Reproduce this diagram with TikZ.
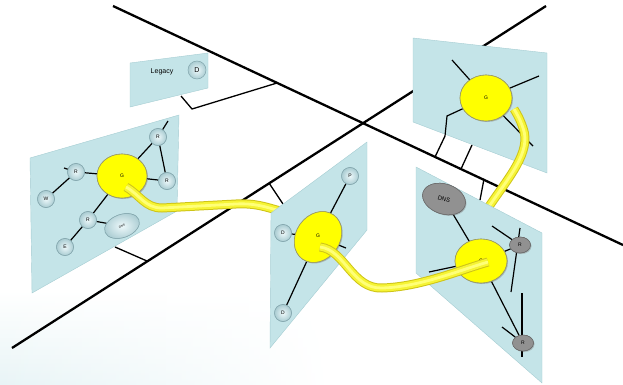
\documentclass[tikz,border=0pt]{standalone}
\usepackage{fontspec}
\setmainfont{Liberation Sans}
\usetikzlibrary{shapes.geometric,fadings,shadows}
\definecolor{panelc}{RGB}{196,228,232}
\definecolor{paneld}{RGB}{165,205,210}
\definecolor{btnin}{RGB}{238,249,251}
\definecolor{btnout}{RGB}{170,204,210}
\definecolor{btnd}{RGB}{130,165,172}
\definecolor{gyel}{RGB}{255,255,0}
\definecolor{gedge}{RGB}{150,150,110}
\definecolor{tubed}{RGB}{206,196,24}
\definecolor{tubem}{RGB}{246,244,52}
\definecolor{tubel}{RGB}{255,255,120}
\definecolor{grayn}{RGB}{145,145,145}
\definecolor{graynd}{RGB}{105,105,105}
\definecolor{bgc}{RGB}{232,244,246}
\begin{document}
\begin{tikzpicture}[x=1pt,y=-1pt,
  panel/.style={fill=panelc, draw=paneld, line width=0.4pt},
  btn/.style={circle, minimum size=17pt, inner sep=0pt, inner color=btnin, outer color=btnout, draw=btnd, line width=0.5pt, font=\fontsize{5}{5}\selectfont},
  gnode/.style={ellipse, inner sep=0pt, fill=gyel, draw=gedge, line width=0.6pt, font=\fontsize{5}{5}\selectfont, drop shadow={opacity=0.25, shadow xshift=1pt, shadow yshift=-1pt}},
  grnode/.style={ellipse, inner sep=0pt, fill=grayn, draw=graynd, line width=0.5pt, font=\fontsize{5}{5}\selectfont, drop shadow={opacity=0.25, shadow xshift=1pt, shadow yshift=-1pt}},
  lnk/.style={line width=1.2pt, black},
  mainln/.style={line width=2.3pt, black},
  conn/.style={line width=1.3pt, black},
  tube/.style={line width=7pt, draw=tubem, preaction={draw=tubed, line width=9pt}, postaction={draw=tubel, line width=2.8pt}}
]
\useasboundingbox (0,0) rectangle (623,385);
% faint background wash
\shade[top color=white, bottom color=bgc, path fading=east] (0,290) rectangle (330,385);

% main lines
\coordinate (a1) at (113,6);
\coordinate (a2) at (623,245);
\coordinate (b1) at (546,6);
\coordinate (b2) at (12,348);
\draw[mainln] (a1) -- (a2);
\draw[mainln] (b1) -- (b2);

% connectors to backbone lines
\coordinate (legA) at (181,96);
\coordinate (legB) at (192,109);
\coordinate (legC) at (277,83);
\draw[conn] (legA) -- (legB) -- (legC);
\coordinate (lpA) at (115,247);
\coordinate (lpB) at (147,261);
\draw[conn] (lpA) -- (lpB);
\coordinate (mpA) at (283,204);
\coordinate (mpB) at (269,183);
\draw[conn] (mpA) -- (mpB);
\coordinate (trB) at (472,145);
\coordinate (trC) at (461,169);
\draw[conn] (trB) -- (trC);
\coordinate (brA) at (480,200);
\coordinate (brB) at (484,179);
\draw[conn] (brA) -- (brB);

% Legacy panel
\draw[panel] (130,63) -- (208,53) -- (208,88) -- (130,107) -- cycle;
\node[font=\fontsize{7}{7}\selectfont] (legtxt) at (162,72) {Legacy};
\node[btn, minimum size=18pt, font=\fontsize{7}{7}\selectfont] (legD) at (197,70) {D};

% Left panel
\draw[panel] (30,158) -- (179,115) -- (177,211) -- (32,293) -- cycle;
\node[gnode, minimum width=50pt, minimum height=44pt] (GL) at (122,176) {G};
\node[btn] (LR1) at (158,137) {R};
\node[btn] (LR2) at (167,181) {R};
\node[btn] (LR3) at (76,172) {R};
\node[btn] (LW) at (46,199) {W};
\node[btn] (LR4) at (88,220) {R};
\node[btn] (LE) at (65,247) {E};
\node[ellipse, minimum width=36pt, minimum height=23pt, inner sep=0pt, inner color=btnin, outer color=btnout, draw=btnd, line width=0.5pt, rotate=20, font=\fontsize{3}{3}\selectfont] (LDNS) at (122,226) {DNS};
\coordinate (ls1) at (64,168);
\coordinate (ls2) at (168,121);
\draw[lnk] (LW) -- (LR3);
\draw[lnk] (LR3) -- (ls1);
\draw[lnk] (LR3) -- (GL);
\draw[lnk] (GL) -- (LR1);
\draw[lnk] (LR1) -- (ls2);
\draw[lnk] (LR1) -- (LR2);
\draw[lnk] (GL) -- (LR2);
\draw[lnk] (GL) -- (LR4);
\draw[lnk] (LR4) -- (LE);
\draw[lnk] (LR4) -- (LDNS);
% redraw nodes above links
\node[gnode, minimum width=50pt, minimum height=44pt] at (GL) {G};
\node[btn] at (LR1) {R};
\node[btn] at (LR2) {R};
\node[btn] at (LR3) {R};
\node[btn] at (LW) {W};
\node[btn] at (LR4) {R};
\node[btn] at (LE) {E};
\node[ellipse, minimum width=36pt, minimum height=23pt, inner sep=0pt, inner color=btnin, outer color=btnout, draw=btnd, line width=0.5pt, rotate=20, font=\fontsize{3}{3}\selectfont] at (LDNS) {DNS};

% tube 1 (passes behind middle panel)
\coordinate (t1s) at (126,187);
\coordinate (t1e) at (280,211);
\draw[tube] (t1s) .. controls (140,195) and (145,208) .. (162,208) -- (236,204) .. controls (255,203) and (266,207) .. (t1e);

% Middle panel
\draw[panel] (271,213) -- (367,142) -- (367,230) -- (270,348) -- cycle;
\node[gnode, minimum width=54pt, minimum height=44pt, rotate=55] (GM) at (318,237) {};
\node[font=\fontsize{5}{5}\selectfont] (GMl) at (318,236) {G};
\node[btn] (MP) at (350,176) {P};
\node[btn] (MD1) at (283,233) {D};
\node[btn] (MD2) at (283,313) {D};
\coordinate (ms1) at (346,248);
\draw[lnk] (GM) -- (MP);
\draw[lnk] (GM) -- (MD1);
\draw[lnk] (GM) -- (MD2);
\draw[lnk] (GM.center) -- (ms1);
\node[gnode, minimum width=54pt, minimum height=44pt, rotate=55] at (GM) {};
\node[font=\fontsize{5}{5}\selectfont] at (GMl) {G};
\node[btn] at (MP) {P};
\node[btn] at (MD1) {D};
\node[btn] at (MD2) {D};

% Top-right panel
\draw[panel] (413,38) -- (547,53) -- (547,173) -- (413,122) -- cycle;
\coordinate (ts1) at (452,60);
\coordinate (ts2) at (539,76);
\coordinate (ts3) at (533,146);
\coordinate (tq1) at (447,116);
\coordinate (tq2) at (445,136);
\coordinate (tq3) at (435,157);
\node[gnode, minimum width=52pt, minimum height=46pt] (GT) at (486,98) {G};
\draw[lnk] (GT) -- (ts1);
\draw[lnk] (GT) -- (ts2);
\draw[lnk] (GT) -- (ts3);
\draw[lnk] (GT) -- (tq1) -- (tq2);
\draw[conn] (tq2) -- (tq3);
\node[gnode, minimum width=52pt, minimum height=46pt] at (GT) {G};

% tube 3 (from behind bottom-right panel up to top G)
\coordinate (t3s) at (488,208);
\coordinate (t3e) at (514,109);
\draw[tube] (t3s) .. controls (508,178) and (532,152) .. (523,128) .. controls (520,119) and (517,114) .. (t3e);

% Bottom-right panel
\draw[panel] (416,167) -- (542,233) -- (542,383) -- (416,273) -- cycle;
\node[grnode, minimum width=44pt, minimum height=30pt, rotate=-18, font=\fontsize{6}{6}\selectfont] (BDNS) at (444,199) {DNS};
\node[gnode, minimum width=52pt, minimum height=44pt] (GB) at (481,261) {G};
\node[grnode, minimum width=21pt, minimum height=16pt] (BR1) at (520,245) {R};
\node[grnode, minimum width=21pt, minimum height=16pt] (BR2) at (523,343) {R};
\coordinate (bs1) at (429,272);
\coordinate (bs2) at (492,226);
\coordinate (bs3) at (520,228);
\coordinate (bs4) at (511,292);
\coordinate (bs5) at (522,293);
\coordinate (bs6) at (522,357);
\coordinate (bs7) at (502,327);
\draw[lnk] (BDNS) -- (GB);
\draw[lnk] (GB) -- (BR1);
\draw[lnk] (GB) -- (BR2);
\draw[lnk] (GB.center) -- (bs1);
\draw[lnk] (BR1) -- (bs2);
\draw[lnk] (bs3) -- (bs4);
\draw[lnk] (bs5) -- (bs6);
\draw[lnk] (BR2) -- (bs7);
\node[grnode, minimum width=44pt, minimum height=30pt, rotate=-18, font=\fontsize{6}{6}\selectfont] at (BDNS) {DNS};
\node[gnode, minimum width=52pt, minimum height=44pt] at (GB) {G};
\node[grnode, minimum width=21pt, minimum height=16pt] at (BR1) {R};
\node[grnode, minimum width=21pt, minimum height=16pt] at (BR2) {R};

% tube 2 (middle G to bottom-right G)
\coordinate (t2s) at (320,247);
\coordinate (t2e) at (488,262);
\draw[tube] (t2s) .. controls (345,250) and (352,289) .. (382,288) .. controls (420,287) and (460,270) .. (t2e);
\end{tikzpicture}
\end{document}
